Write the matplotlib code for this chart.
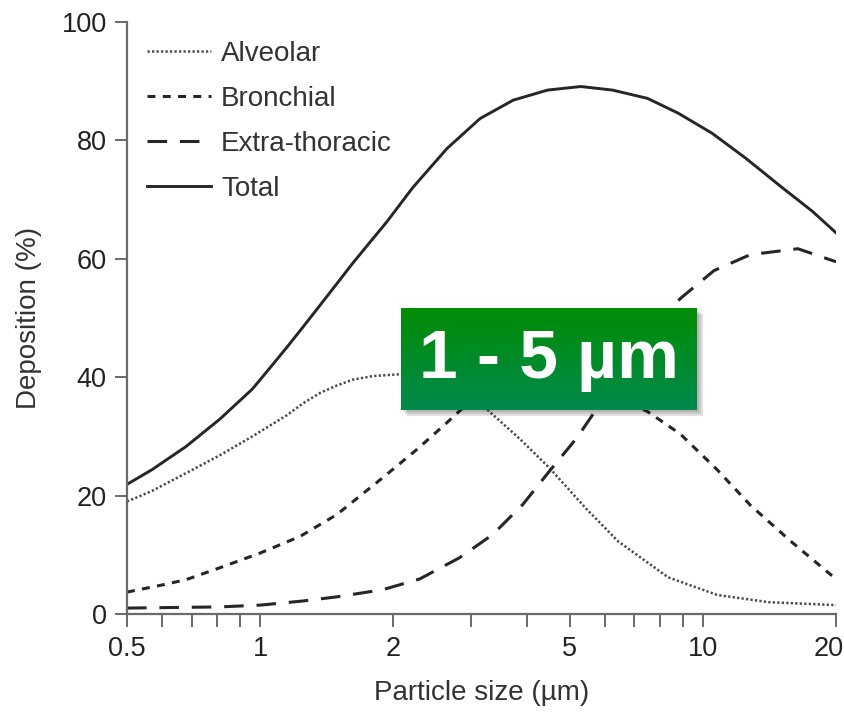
import numpy as np
import matplotlib.pyplot as plt
from matplotlib.patches import Rectangle
from matplotlib.ticker import FixedLocator, NullFormatter
from matplotlib.transforms import ScaledTranslation

plt.rcParams['font.family'] = ['Liberation Sans', 'DejaVu Sans']

# Data
x_total = [0.5, 0.57, 0.68, 0.81, 0.96, 1.05, 1.15, 1.25, 1.37, 1.49, 1.62, 1.77, 1.93,
           2.21, 2.64, 3.14, 3.73, 4.46, 5.3, 6.25, 7.5, 8.8, 10.5, 12.5, 14.9, 17.7, 20]
y_total = [21.9, 24.4, 28.3, 32.9, 38.0, 41.5, 45.1, 48.5, 52.3, 55.8, 59.3, 62.8, 66.2,
           72.0, 78.6, 83.7, 86.8, 88.5, 89.1, 88.5, 87.1, 84.6, 81.2, 77.0, 72.4, 68.0, 64.4]

x_alv = [0.5, 0.57, 0.68, 0.81, 0.96, 1.15, 1.25, 1.37, 1.49, 1.62, 1.8, 2.07, 2.4,
         2.8, 3.25, 3.87, 4.5, 5.45, 6.43, 8.35, 10.8, 14.1, 20]
y_alv = [19.0, 20.8, 23.8, 26.8, 30.0, 33.6, 35.6, 37.4, 38.6, 39.6, 40.2, 40.5, 39.8,
         37.6, 34.6, 29.5, 24.7, 17.8, 12.3, 6.2, 3.2, 2.0, 1.5]

x_bro = [0.5, 0.6, 0.68, 0.81, 1.0, 1.23, 1.49, 1.89, 2.26, 2.64, 2.85, 3.5, 4.5, 5.8,
         7.5, 8.9, 10.8, 12.8, 15.8, 20]
y_bro = [3.7, 4.9, 5.8, 7.8, 10.3, 13.1, 16.8, 23.0, 27.8, 32.3, 34.6, 38.0, 39.3, 38.0,
         34.2, 30.4, 24.3, 18.4, 12.3, 5.9]

x_et = [0.5, 0.81, 1.0, 1.25, 1.49, 1.89, 2.29, 2.82, 3.35, 3.92, 4.5, 5.2, 5.75, 7.0,
        8.0, 8.9, 10.6, 12.8, 16.4, 20]
y_et = [1.0, 1.2, 1.5, 2.2, 2.9, 4.1, 5.9, 9.5, 13.4, 18.5, 24.1, 29.8, 34.6, 43.5,
        49.5, 53.3, 58.0, 60.7, 61.7, 59.5]

x_major = [0.5, 1, 2, 5, 10, 20]
x_major_labels = ['0.5', '1', '2', '5', '10', '20']
x_minor = [0.6, 0.7, 0.8, 0.9, 3, 4, 6, 7, 8, 9]
y_ticks = [0, 20, 40, 60, 80, 100]

W, H = 844, 714
fig = plt.figure(figsize=(W / 100, H / 100), dpi=100)
ax = fig.add_axes([127 / W, 1 - 614 / H, (836 - 127) / W, (614 - 22) / H])

lc = '#262626'
ax.plot(x_alv, y_alv, color='#4a4a4a', lw=1.8, ls=(0, (0.9, 0.9)), label='Alveolar')
ax.plot(x_bro, y_bro, color=lc, lw=2.2, ls=(0, (2.6, 2.4)), label='Bronchial')
ax.plot(x_et, y_et, color=lc, lw=2.2, ls=(0, (6.4, 4.2)), label='Extra-thoracic')
ax.plot(x_total, y_total, color=lc, lw=2.1, label='Total')

ax.set_xscale('log')
ax.set_xlim(0.5, 20)
ax.set_ylim(0, 100)
ax.xaxis.set_major_locator(FixedLocator(x_major))
ax.set_xticklabels(x_major_labels)
ax.xaxis.set_minor_locator(FixedLocator(x_minor))
ax.xaxis.set_minor_formatter(NullFormatter())
ax.set_yticks(y_ticks)

for s in ['top', 'right']:
    ax.spines[s].set_visible(False)
for s in ['left', 'bottom']:
    ax.spines[s].set_color('#6a6a6a')
    ax.spines[s].set_linewidth(1.6)
ax.tick_params(which='both', direction='out', length=9, width=1.4, color='#6a6a6a',
               labelsize=19.5, labelcolor='#222222')
ax.tick_params(axis='x', which='both', pad=7)
ax.tick_params(axis='y', pad=5.5)

# last tick label sits at the figure edge, nudge it in like the original
lab20 = ax.get_xticklabels()[-1]
lab20.set_transform(lab20.get_transform() + ScaledTranslation(-7 / 100, 0, fig.dpi_scale_trans))

ax.set_xlabel('Particle size (µm)', fontsize=20, color='#333333', labelpad=13)
ax.set_ylabel('Deposition (%)', fontsize=20, color='#333333', labelpad=14)

ax.legend(loc='upper left', bbox_to_anchor=(147 / W, 1 - 41 / H), bbox_transform=fig.transFigure,
          frameon=False, fontsize=20, handlelength=2.3, handletextpad=0.36,
          labelspacing=0.68, borderpad=0, borderaxespad=0, labelcolor='#333333')

# green label box with shadow
bx0, bx1, by0, by1 = 401, 697, 308, 410
for k, a in enumerate([0.10, 0.10, 0.12]):
    off = 2 + 2 * k
    fig.patches.append(Rectangle(((bx0 + off) / W, 1 - (by1 + off) / H), (bx1 - bx0) / W,
                                 (by1 - by0) / H, transform=fig.transFigure,
                                 color='black', alpha=a, lw=0, zorder=5))
gax = fig.add_axes([bx0 / W, 1 - by1 / H, (bx1 - bx0) / W, (by1 - by0) / H], zorder=6)
top = np.array([0.0, 0.55, 0.02])
bot = np.array([0.0, 0.54, 0.30])
t = np.linspace(0, 1, 64)[:, None, None]
grad = top * (1 - t) + bot * t
gax.imshow(grad, aspect='auto', extent=[0, 1, 0, 1])
gax.set_axis_off()
gax.text(0.5, 0.49, '1 - 5 µm', transform=gax.transAxes, ha='center', va='center',
         fontsize=50, fontweight='bold', color='white')

fig.savefig('out.png', dpi=100)
